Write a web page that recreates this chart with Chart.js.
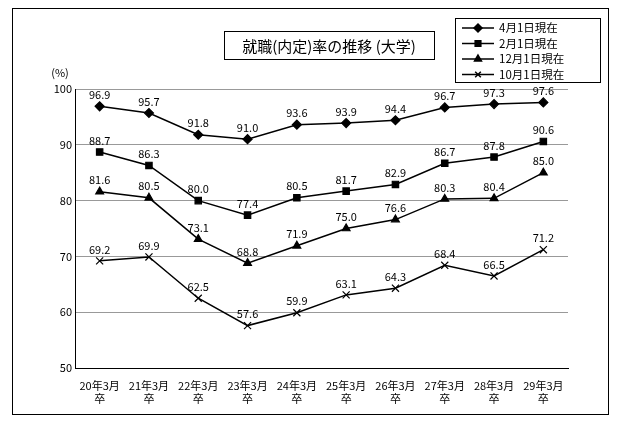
<!DOCTYPE html>
<html><head><meta charset="utf-8">
<script src="https://cdn.jsdelivr.net/npm/chart.js@4"></script>
<style>body{margin:0;background:#fff}</style>
</head><body>
<canvas id="c" width="620" height="425"></canvas>
<script>
const categories = [["20年3月","卒"],["21年3月","卒"],["22年3月","卒"],["23年3月","卒"],["24年3月","卒"],["25年3月","卒"],["26年3月","卒"],["27年3月","卒"],["28年3月","卒"],["29年3月","卒"]];
const april = [96.9,95.7,91.8,91.0,93.6,93.9,94.4,96.7,97.3,97.6];
const february = [88.7,86.3,80.0,77.4,80.5,81.7,82.9,86.7,87.8,90.6];
const december = [81.6,80.5,73.1,68.8,71.9,75.0,76.6,80.3,80.4,85.0];
const october = [69.2,69.9,62.5,57.6,59.9,63.1,64.3,68.4,66.5,71.2];
const seriesNames = ["4月1日現在","2月1日現在","12月1日現在","10月1日現在"];
const markers = ["rectRot","rect","triangle","crossRot"];
const FONT = '"Noto Sans CJK JP", sans-serif';

function ds(label, data, style) {
  return { label, data, borderColor:"#000", backgroundColor:"#000", borderWidth:1.5,
    pointStyle:style, pointRadius: style==="crossRot"?5:4.5, pointBorderWidth:1.2, tension:0 };
}

const decor = {
  id:"decor",
  afterDraw(chart) {
    const ctx = chart.ctx;
    ctx.save();
    ctx.strokeStyle="#000"; ctx.lineWidth=1;
    ctx.strokeRect(12.5,8.5,596,406);
    // title
    ctx.strokeRect(224.5,31.5,210,28);
    ctx.fillStyle="#000"; ctx.font="15px "+FONT; ctx.textAlign="center"; ctx.textBaseline="middle";
    ctx.fillText("就職(内定)率の推移 (大学)",329,46);
    // axis unit
    ctx.font="11px "+FONT;
    ctx.fillText("(%)",60,73);
    // value labels
    ctx.font="11px "+FONT; ctx.textBaseline="bottom";
    chart.data.datasets.forEach((d,i)=>{
      chart.getDatasetMeta(i).data.forEach((p,j)=>{
        ctx.fillText(d.data[j].toFixed(1), p.x, p.y-6);
      });
    });
    // legend
    ctx.strokeRect(455.5,18.5,145,64);
    ctx.textAlign="left"; ctx.textBaseline="middle"; ctx.font="11.5px "+FONT;
    seriesNames.forEach((n,i)=>{
      const y=28+i*15.5;
      ctx.beginPath(); ctx.moveTo(462,y); ctx.lineTo(494,y); ctx.lineWidth=1.5; ctx.stroke();
      Chart.helpers.drawPoint(ctx,{pointStyle:markers[i],radius:4,borderWidth:1.2},478,y);
      ctx.fillText(n,499,y);
    });
    ctx.restore();
  }
};

new Chart(document.getElementById("c"), {
  type:"line",
  data:{ labels:categories, datasets:[
    ds(seriesNames[0],april,markers[0]), ds(seriesNames[1],february,markers[1]),
    ds(seriesNames[2],december,markers[2]), ds(seriesNames[3],october,markers[3])
  ]},
  plugins:[decor],
  options:{
    responsive:false, animation:false,
    layout:{ padding:{left:20,right:52,top:89,bottom:0} },
    plugins:{ legend:{display:false}, tooltip:{enabled:false} },
    scales:{
      y:{ min:50, max:100, afterFit(s){s.width=55;},
        ticks:{stepSize:10, color:"#000", font:{family:FONT,size:11}},
        grid:{color:"#999", drawTicks:false}, border:{color:"#000"} },
      x:{ offset:true, afterFit(s){s.height=57;},
        ticks:{color:"#000", font:{family:FONT,size:11}, maxRotation:0, autoSkip:false},
        grid:{display:false}, border:{color:"#000"} }
    }
  }
});
</script>
</body></html>
